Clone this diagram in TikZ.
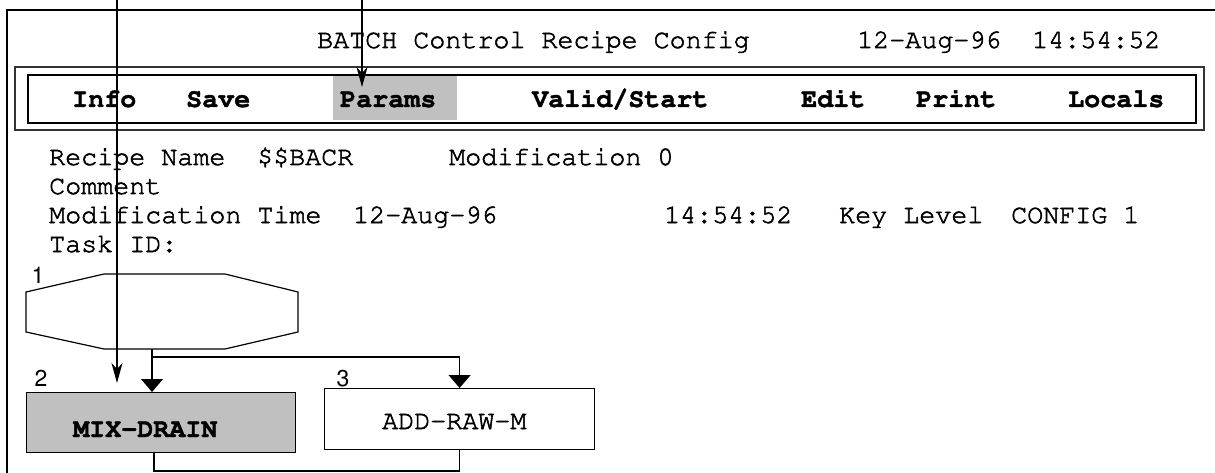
\documentclass[tikz,border=0pt]{standalone}
\usepackage[T1]{fontenc}
\usepackage{courier}
\usepackage{helvet}
\usetikzlibrary{arrows.meta}

\definecolor{hl}{RGB}{192,192,192}

% Courier is drawn filled and stroked, so its strokes come out heavier
\newcommand\heavy[1]{\special{pdf:literal direct 2 Tr 0.55 w}#1\special{pdf:literal direct 0 Tr}}
\newcommand\heavyb[1]{\special{pdf:literal direct 2 Tr 0.35 w}#1\special{pdf:literal direct 0 Tr}}

\tikzset{
  scr/.style={font=\ttfamily\fontsize{26.7}{30}\selectfont, anchor=base west, inner sep=0pt},
  menu/.style={font=\ttfamily\bfseries\fontsize{26.7}{30}\selectfont, anchor=base west, inner sep=0pt},
  num/.style={font=\sffamily\fontsize{23}{25}\selectfont, anchor=base, inner sep=0pt},
  link/.style={line width=1.2pt},
  tri/.style={-{Triangle[width=22pt,length=13pt]}},
  ptr/.style={-{Stealth[width=11pt,length=20pt,inset=6pt]}},
  stepbox/.style={draw, line width=1.2pt, inner sep=0pt, anchor=north west},
}

\begin{document}
\begin{tikzpicture}[x=1pt,y=-1pt]
\useasboundingbox (0,0) rectangle (1215,473);

% screen frame (runs off the page to the right and bottom)
\draw[line width=2pt] (7,473) -- (7,10) -- (1215,10);

% header line
\node[scr] (title) at (317,48) {\heavy{BATCH Control Recipe Config}};
\node[scr] (hdate) at (857,48) {\heavy{12-Aug-96}};
\node[scr] (htime) at (1032,48) {\heavy{14:54:52}};

% menu bar
\draw[line width=1.5pt, draw=black!80] (15,67) rectangle (1204,130);
\draw[line width=1.2pt] (28,75) rectangle (1196,123);
\node[fill=hl, inner sep=0pt, minimum width=124pt, minimum height=44pt, anchor=north west] (params) at (333,76) {};
\node[menu] (mInfo)  at (72,107)   {\heavyb{Info}};
\node[menu] (mSave)  at (186,107)  {\heavyb{Save}};
\node[menu] (mParam) at (340,107)  {\heavyb{Params}};
\node[menu] (mValid) at (532,107)  {\heavyb{Valid/Start}};
\node[menu] (mEdit)  at (801,107)  {\heavyb{Edit}};
\node[menu] (mPrint) at (916,107)  {\heavyb{Print}};
\node[menu] (mLoc)   at (1068,107) {\heavyb{Locals}};

% recipe header fields
\node[scr] (rname)  at (49,165)   {\heavy{Recipe Name}};
\node[scr] (rval)   at (257,165)  {\heavy{\$\$BACR}};
\node[scr] (rmod)   at (449,165)  {\heavy{Modification 0}};
\node[scr] (rcomm)  at (49,194)   {\heavy{Comment}};
\node[scr] (rmtime) at (49,223)   {\heavy{Modification Time}};
\node[scr] (rmdate) at (353,223)  {\heavy{12-Aug-96}};
\node[scr] (rclock) at (664,223)  {\heavy{14:54:52}};
\node[scr] (rkey)   at (839,223)  {\heavy{Key Level}};
\node[scr] (rkval)  at (1011,223) {\heavy{CONFIG 1}};
\node[scr] (rtask)  at (49,252)   {\heavy{Task ID:}};

% step 1: octagon
\draw[link] (26,292) -- (104,274) -- (225,274) -- (298,292) -- (298,332)
            -- (225,349) -- (104,349) -- (26,332) -- cycle;
\coordinate (oct) at (152,349);
\node[num] (lab1) at (38,283) {1};

% step 2 and step 3
\node[stepbox, fill=hl, minimum width=269pt, minimum height=60pt] (mix) at (26,392) {};
\node[menu] (mixtxt) at (73,437) {\heavyb{MIX-DRAIN}};
\node[num] (lab2) at (41,386) {2};

\node[stepbox, fill=white, minimum width=270pt, minimum height=61pt] (add) at (324,388) {};
\node[scr] (addtxt) at (382,429) {\heavy{ADD-RAW-M}};
\node[num] (lab3) at (343,386) {3};

% transitions
\coordinate (fork) at (152,357);
\draw[link, tri] (oct) -- (oct |- mix.north);
\draw[link, tri] (fork) -| (add.north);
\coordinate (loop) at (154,471);
\draw[link] (loop |- mix.south) -- (loop) -| (add.south);

% pointer arrows
\coordinate (p1s) at (117,0);
\coordinate (p1e) at (117,383);
\coordinate (p2s) at (362,0);
\coordinate (p2e) at (362,87);
\draw[link, ptr] (p1s) -- (p1e);
\draw[link, ptr] (p2s) -- (p2e);
\end{tikzpicture}
\end{document}
